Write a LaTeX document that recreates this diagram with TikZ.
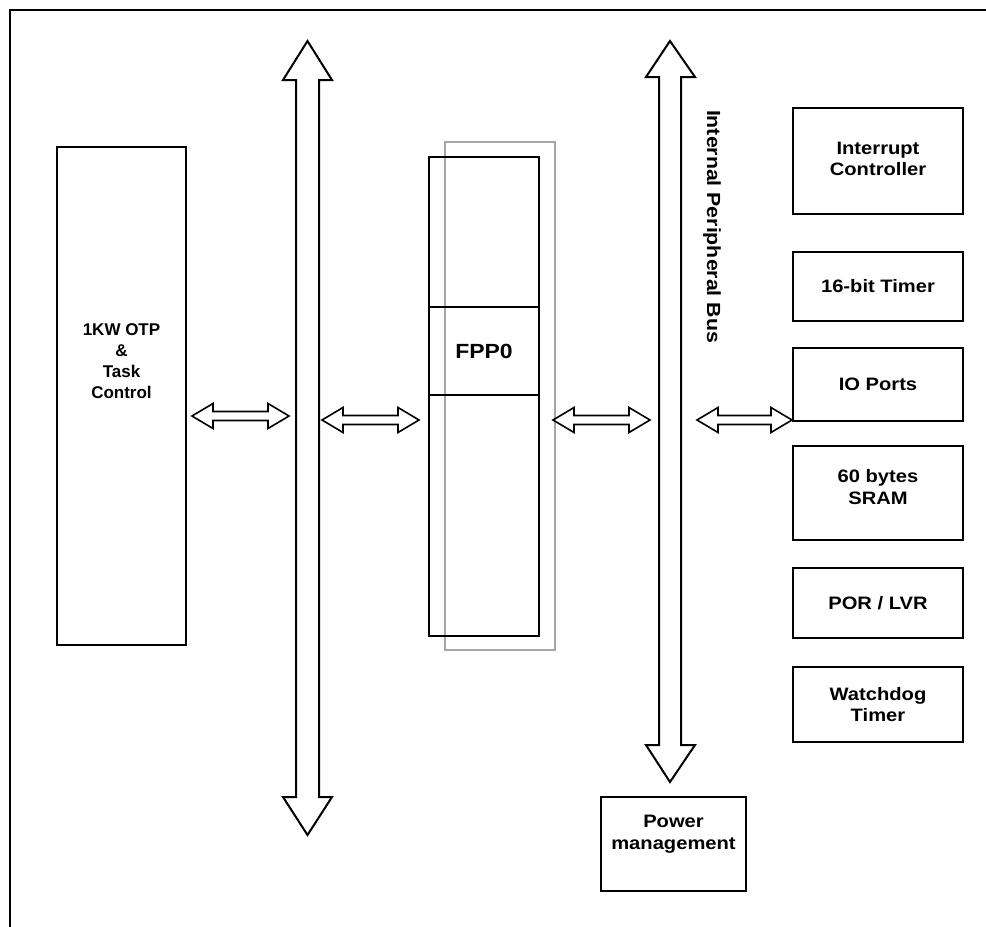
\documentclass[tikz,border=0pt]{standalone}
\usepackage{fontspec}
\setmainfont{Liberation Sans}
\newfontfamily\widesans[FakeStretch=1.12]{Liberation Sans}
\usetikzlibrary{calc}
\definecolor{shadowgray}{HTML}{A6A6A6}
\newcommand\biarrow[2]{%
  \draw[arrowline] let \p1=(#1), \p2=(#2) in
    (\x1,\y1) -- (\x1+21pt,\y1+12.5pt) -- (\x1+21pt,\y1+4.5pt) -- (\x2-21pt,\y1+4.5pt)
    -- (\x2-21pt,\y1+12.5pt) -- (\x2,\y1) -- (\x2-21pt,\y1-12.5pt) -- (\x2-21pt,\y1-4.5pt)
    -- (\x1+21pt,\y1-4.5pt) -- (\x1+21pt,\y1-12.5pt) -- cycle;}
\begin{document}
\begin{tikzpicture}[x=1pt,y=-1pt,line join=miter]
\tikzset{
  blk/.style={draw=black, line width=2pt, inner sep=0pt, rectangle, minimum width=170pt},
  lbl/.style={font=\widesans\bfseries\fontsize{18}{21.5}\selectfont, align=center, inner sep=0pt},
  otplbl/.style={font=\bfseries\fontsize{17}{21}\selectfont, align=center, inner sep=0pt},
  busarrow/.style={draw=black, line width=2pt, fill=white},
  arrowline/.style={draw=black, line width=1.6pt, fill=white},
}
\useasboundingbox (0,0) rectangle (986,927);
% outer frame (top and left edges only visible)
\draw[line width=2.2pt] (10,927) -- (10,10) -- (986,10);

% left program memory block
\node[blk, minimum width=129pt, minimum height=498pt] (otp) at (121.5,396) {};
\node[otplbl] (otptext) at (121.5,361) {1KW OTP\\\&\\Task\\Control};

% FPP column
\node[draw=shadowgray, line width=1.5pt, inner sep=0pt, minimum width=110pt, minimum height=508pt] (shadow) at (500,396) {};
\node[blk, minimum width=110pt, minimum height=479pt] (fppcol) at (484,396.5) {};
\node[blk, minimum width=110pt, minimum height=88pt, font=\widesans\bfseries\fontsize{20.5}{24}\selectfont] (fpp) at (484,351) {FPP0};

% left bus
\draw[busarrow] (307.5,41) -- (332,80) -- (319,80) -- (319,797) -- (332,797) -- (307.5,835)
  -- (283,797) -- (296,797) -- (296,80) -- (283,80) -- cycle;
% right (internal peripheral) bus
\draw[busarrow] (670,41) -- (695,77) -- (681,77) -- (681,745) -- (695,745) -- (670,782)
  -- (646,745) -- (659,745) -- (659,77) -- (646,77) -- cycle;
\node[lbl, font=\widesans\bfseries\fontsize{19}{22}\selectfont, rotate=-90] (buslabel) at (712,226.5) {Internal Peripheral Bus};

% peripherals
\node[blk, minimum height=106pt] (intc) at (878,161) {};
\node[lbl] at ($(intc.center)+(0,-2)$) {Interrupt\\Controller};
\node[blk, minimum height=69pt, lbl, draw] (timer) at (878,286.5) {16-bit Timer};
\node[blk, minimum height=73pt, lbl, draw] (io) at (878,384.5) {IO Ports};
\node[blk, minimum height=94pt] (sram) at (878,493) {};
\node[lbl] at ($(sram.center)+(0,-6)$) {60 bytes\\SRAM};
\node[blk, minimum height=70pt, lbl, draw] (por) at (878,603) {POR / LVR};
\node[blk, minimum height=75pt] (wdt) at (878,704.5) {};
\node[lbl] at (wdt.center) {Watchdog\\Timer};

% power management
\node[blk, minimum width=145pt, minimum height=94pt] (pwr) at (673.5,844) {};
\node[lbl] at ($(pwr.center)+(0,-10)$) {Power\\management};

% bidirectional connectors
\coordinate (a1s) at (192,416); \coordinate (a1e) at (289,416);
\coordinate (a2s) at (322,420); \coordinate (a2e) at (419,420);
\coordinate (a3s) at (553,420); \coordinate (a3e) at (650,420);
\coordinate (a4s) at (697,420); \coordinate (a4e) at (io.west);
\biarrow{a1s}{a1e}
\biarrow{a2s}{a2e}
\biarrow{a3s}{a3e}
\biarrow{a4s}{a4e}
\end{tikzpicture}
\end{document}
